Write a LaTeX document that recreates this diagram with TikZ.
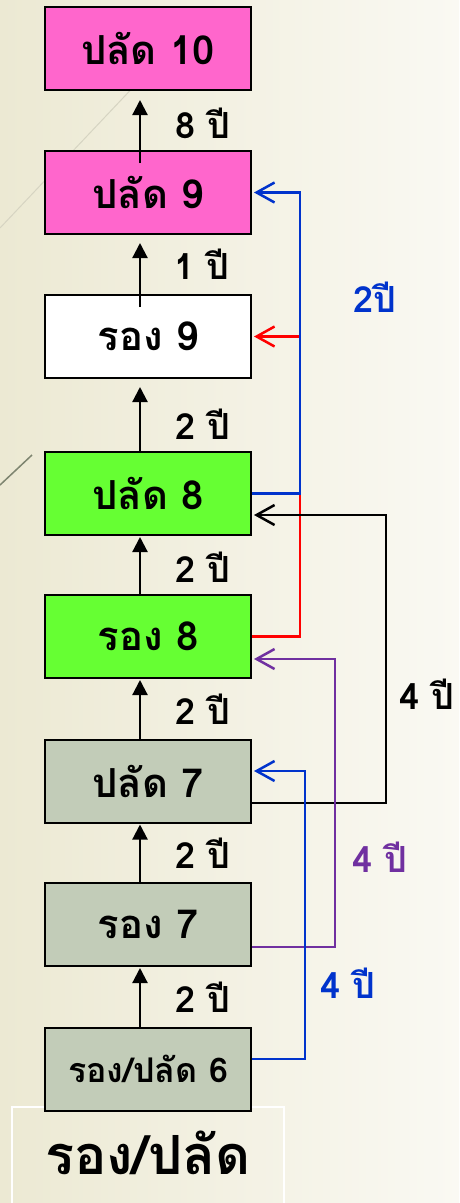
\documentclass[tikz,border=0pt]{standalone}
\usepackage{fontspec}
\newfontfamily\thaifont[Script=Thai]{Loma}
\usetikzlibrary{arrows.meta}
\definecolor{bgL}{HTML}{ECE9D3}
\definecolor{bgR}{HTML}{FAF9F3}
\definecolor{pinkbox}{HTML}{FF66CC}
\definecolor{greenbox}{HTML}{66FF33}
\definecolor{graybox}{HTML}{C2CCB8}
\definecolor{myblue}{HTML}{0033CC}
\definecolor{myred}{HTML}{FF0000}
\definecolor{mypurple}{HTML}{7030A0}
\definecolor{deco}{HTML}{D6D4C2}
\definecolor{deco2}{HTML}{7E8570}
\tikzset{
  box/.style={draw=black, line width=2pt, minimum width=206pt, minimum height=83pt,
    inner sep=0pt, font=\thaifont\bfseries\fontsize{40}{44}\selectfont},
  uparrow/.style={line width=2.2pt, -{Triangle[length=15pt,width=15pt]}},
  sidearrow/.style={line width=2.5pt, -{Straight Barb[length=18pt,width=20pt,line width=2.5pt]}, shorten >=2pt},
  lbl/.style={font=\thaifont\bfseries\fontsize{36}{40}\selectfont, inner sep=0pt}
}
\begin{document}
\begin{tikzpicture}[x=1pt,y=-1pt]
\useasboundingbox (0,0) rectangle (459,1203);
\shade[left color=bgL, right color=bgR] (0,0) rectangle (459,1203);
\draw[deco, line width=1pt] (0,228) -- (140,80);
\draw[deco2, line width=1.5pt] (0,485) -- (32,455);
% bottom title frame
\draw[white, line width=1.5pt] (12,1210) -- (12,1107) -- (284,1107) -- (284,1210);
\node[font=\thaifont\bfseries\fontsize{54}{58}\selectfont] (title) at (148,1153) {รอง/ปลัด};
% boxes
\node[box, fill=pinkbox] (p10) at (148,48.5) {ปลัด 10};
\node[box, fill=pinkbox] (p9) at (148,192.5) {ปลัด 9};
\node[box, fill=white] (r9) at (148,336.5) {รอง 9};
\node[box, fill=greenbox] (p8) at (148,493.5) {ปลัด 8};
\node[box, fill=greenbox] (r8) at (148,636.5) {รอง 8};
\node[box, fill=graybox] (p7) at (148,781) {ปลัด 7};
\node[box, fill=graybox] (r7) at (148,924.5) {รอง 7};
\node[box, fill=graybox, font=\thaifont\bfseries\fontsize{34}{38}\selectfont] (r6) at (148,1069) {รอง/ปลัด 6};
% vertical arrows
\draw[uparrow] ([xshift=-8pt,yshift=-13pt]p9.north) -- ([xshift=-8pt,yshift=-9pt]p10.south);
\draw[uparrow] ([xshift=-8pt,yshift=-13pt]r9.north) -- ([xshift=-8pt,yshift=-8pt]p9.south);
\draw[uparrow] ([xshift=-8pt]p8.north) -- ([xshift=-8pt,yshift=-8pt]r9.south);
\draw[uparrow] ([xshift=-8pt]r8.north) -- ([xshift=-8pt,yshift=-1pt]p8.south);
\draw[uparrow] ([xshift=-8pt]p7.north) -- ([xshift=-8pt,yshift=-1pt]r8.south);
\draw[uparrow] ([xshift=-8pt]r7.north) -- ([xshift=-8pt,yshift=-1pt]p7.south);
\draw[uparrow] ([xshift=-8pt]r6.north) -- ([xshift=-8pt,yshift=-1pt]r7.south);
% vertical labels
\node[lbl] (l1) at (203,123) {8 ปี};
\node[lbl] (l2) at (202,264) {1 ปี};
\node[lbl] (l3) at (203,424) {2 ปี};
\node[lbl] (l4) at (203,567) {2 ปี};
\node[lbl] (l5) at (203,709) {2 ปี};
\node[lbl] (l6) at (203,853) {2 ปี};
\node[lbl] (l7) at (203,997) {2 ปี};
% side connectors
\coordinate (xb) at (300,0);
\coordinate (xk) at (386,0);
\coordinate (xp) at (335,0);
\coordinate (xb2) at (305,0);
\coordinate (p7o) at ([yshift=-22pt]p7.east);
\coordinate (p8i) at ([yshift=-21.5pt]p8.east);
\coordinate (r7o) at ([yshift=-22.5pt]r7.east);
\coordinate (r8i) at ([yshift=-22.5pt]r8.east);
\coordinate (r6o) at ([yshift=10pt]r6.east);
\coordinate (p7i) at ([yshift=10pt]p7.east);
\draw[sidearrow, myred] (r8.east) -- (r8.east -| xb) -- (xb |- r9.east) -- (r9.east);
\draw[sidearrow, myblue] (p8.east) -- (p8.east -| xb) -- (xb |- p9.east) -- (p9.east);
\draw[sidearrow, black] (p7o) -- (p7o -| xk) -- (xk |- p8i) -- (p8i);
\draw[sidearrow, mypurple] (r7o) -- (r7o -| xp) -- (xp |- r8i) -- (r8i);
\draw[sidearrow, myblue] (r6o) -- (r6o -| xb2) -- (xb2 |- p7i) -- (p7i);
% side labels
\node[lbl, text=myblue] (s1) at (375,297) {2ปี};
\node[lbl] (s2) at (427,694) {4 ปี};
\node[lbl, text=mypurple] (s3) at (380,857) {4 ปี};
\node[lbl, text=myblue] (s4) at (348,983) {4 ปี};
\end{tikzpicture}
\end{document}
